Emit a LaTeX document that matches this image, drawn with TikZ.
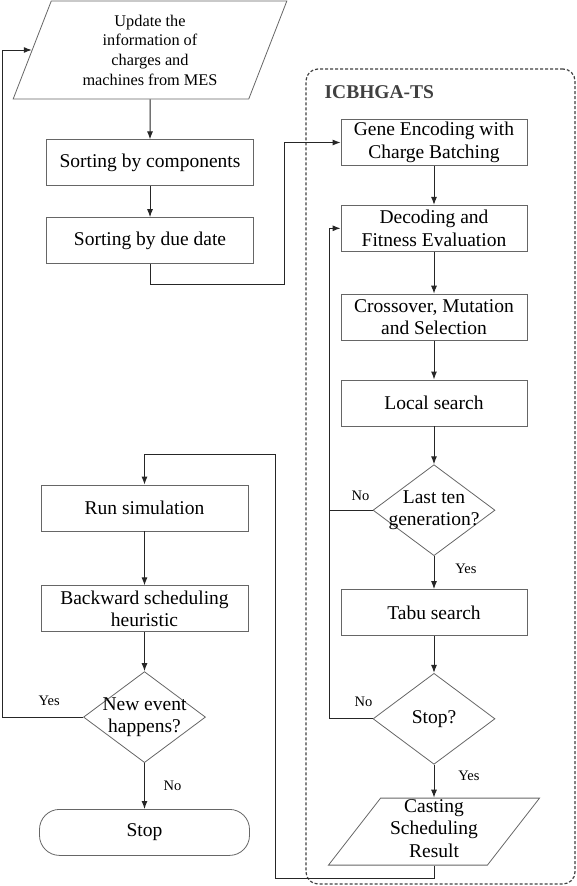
\documentclass[tikz,border=0pt]{standalone}
\usepackage{fontspec}
\setmainfont{Liberation Serif}
\usetikzlibrary{arrows.meta,positioning,calc,shapes.geometric}
\tikzset{
  proc/.style={draw=black!60, line width=0.8pt, minimum width=207pt, minimum height=46pt, align=center, inner sep=2pt, font=\fontsize{19.5}{22.5}\selectfont},
  ga/.style={proc, minimum width=186pt},
  io/.style={draw=black!60, line width=0.8pt, trapezium, trapezium stretches=true, align=center, inner sep=1pt},
  cond/.style={draw=black!60, line width=0.8pt, diamond, minimum width=122pt, minimum height=91pt, inner sep=1pt},
  term/.style={proc, minimum width=210pt, rounded corners=20pt},
  txt/.style={align=center, inner sep=0pt, font=\fontsize{19.5}{22.5}\selectfont},
  lab/.style={font=\fontsize{14.5}{16}\selectfont, inner sep=0pt},
  grp/.style={draw=black!75, line width=1.2pt, dash pattern=on 3pt off 2pt, rounded corners=12pt, minimum width=269pt, minimum height=815pt},
  title/.style={font=\bfseries\fontsize{19.5}{22.5}\selectfont, text=black!75, inner sep=0pt},
  arrow/.style={-{Latex[length=8pt,width=6pt]}, line width=1pt, draw=black!85},
  line/.style={line width=1pt, draw=black!85},
}

\begin{document}
\begin{tikzpicture}[x=1pt,y=1pt]
\useasboundingbox (0,0) rectangle (577,-886);
% left column
\node[io, trapezium left angle=70, trapezium right angle=110, minimum width=274pt, minimum height=98pt, font=\fontsize{16.3}{19.7}\selectfont] (upd) at (150,-50) {Update the\\information of\\charges and\\machines from MES};
\node[proc, below=40pt of upd] (comp) {Sorting by components};
\node[proc, below=31pt of comp] (due) {Sorting by due date};
\node[proc] (sim) at (144.5,-508) {Run simulation};
\node[proc, below=54pt of sim] (bwd) {Backward scheduling\\heuristic};
\node[cond, below=39pt of bwd, label={[txt]center:New event\\happens?}] (evt) {};
\node[term, below=46pt of evt] (stop) {Stop};
% ICBHGA-TS
\node[grp] (ts) at (440.5,-476.5) {};
\node[title, anchor=west] (tstitle) at ($(ts.north west)+(19,-24)$) {ICBHGA-TS};
\node[ga] (gene) at (434,-142.5) {Gene Encoding with\\Charge Batching};
\node[ga, below=39pt of gene] (dec) {Decoding and\\Fitness Evaluation};
\node[ga, below=42pt of dec] (cross) {Crossover, Mutation\\and Selection};
\node[ga, below=39pt of cross] (loc) {Local search};
\node[cond, below=38pt of loc, label={[txt]center:Last ten\\generation?}] (last) {};
\node[ga, below=33pt of last] (tabu) {Tabu search};
\node[cond, below=37pt of tabu, label={[txt]center:Stop?}] (halt) {};
\node[io, trapezium left angle=64, trapezium right angle=116, minimum width=211pt, minimum height=67pt, below=33pt of halt, label={[txt, yshift=3pt]center:Casting\\Scheduling\\Result}] (cast) {};
% branch labels
\node[lab] (yesevt) at ($(evt.west)+(-34,16)$) {Yes};
\node[lab] (noevt) at ($(evt.south)+(28,-23)$) {No};
\node[lab] (nolast) at ($(last.west)+(-12,14)$) {No};
\node[lab] (yeslast) at ($(last.south)+(32,-13)$) {Yes};
\node[lab] (nohalt) at ($(halt.west)+(-9,17)$) {No};
\node[lab] (yeshalt) at ($(halt.south)+(35,-11)$) {Yes};
% connectors
\draw[arrow] (upd) -- (comp);
\draw[arrow] (comp) -- (due);
\draw[arrow] (due.south) -- ++(0,-20) -- ++(134.5,0) |- (gene.west);
\draw[arrow] (gene) -- (dec);
\draw[arrow] (dec) -- (cross);
\draw[arrow] (cross) -- (loc);
\draw[arrow] (loc) -- (last);
\draw[arrow] (last.west) -- ++(-43,0) |- (dec.west);
\draw[arrow] (last) -- (tabu);
\draw[arrow] (tabu) -- (halt);
\draw[line] (halt.west) -- ++(-43,0) |- (last.west);
\draw[arrow] (halt) -- (cast);
\draw[arrow] (cast.south) -- ++(0,-13) -- ++(-159,0) |- ($(sim.north)+(0,30)$) -- (sim.north);
\draw[arrow] (sim) -- (bwd);
\draw[arrow] (bwd) -- (evt);
\draw[arrow] (evt) -- (stop);
\draw[arrow] (evt.west) -- ++(-81,0) |- (upd.west);
\end{tikzpicture}
\end{document}
